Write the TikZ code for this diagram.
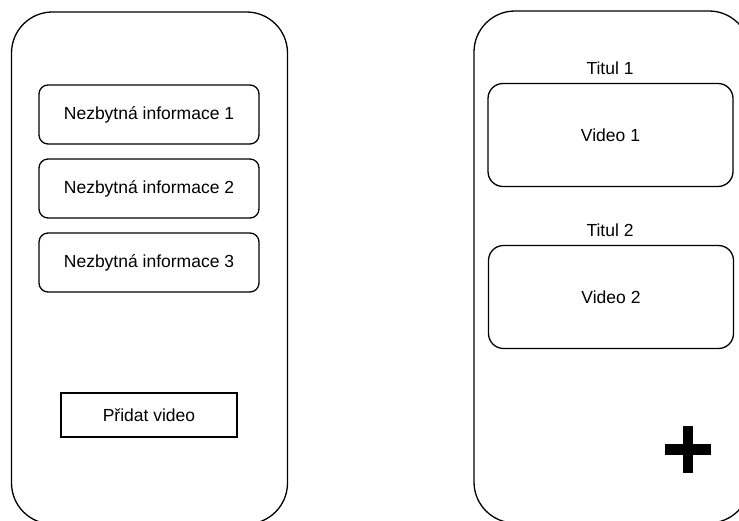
\documentclass[tikz,border=0pt]{standalone}
\usepackage{fontspec}
\setmainfont{Liberation Sans}
\begin{document}
\begin{tikzpicture}[x=1pt,y=-1pt,
  every node/.style={font=\fontsize{17.5}{20}\selectfont, inner sep=0pt, outer sep=0pt},
  phone/.style={draw, line width=1.3pt, rounded corners=41pt, minimum width=276pt, minimum height=512pt},
  infobox/.style={draw, line width=1.3pt, rounded corners=9pt, minimum width=220pt, minimum height=59pt},
  videobox/.style={draw, line width=1.3pt, rounded corners=15pt, minimum width=245pt, minimum height=103pt},
  plainbox/.style={draw, line width=1.3pt, minimum width=176pt, minimum height=44pt},
  caption/.style={}
]
\useasboundingbox (0,0) rectangle (739,521);
\clip (0,0) rectangle (739,521);

% left screen: information list
\node[phone] (left) at (149.5,268) {};
\node[infobox] (info1) at (149,114.5) {Nezbytná informace 1};
\node[infobox] (info2) at (149,188.5) {Nezbytná informace 2};
\node[infobox] (info3) at (149,262.5) {Nezbytná informace 3};
\node[plainbox] (add) at (149,415) {Přidat video};

% right screen: video list
\node[phone] (right) at (612,267) {};
\node[caption] (title1) at (610,68) {Titul 1};
\node[videobox] (video1) at (610.5,135) {Video 1};
\node[caption] (title2) at (610,230) {Titul 2};
\node[videobox] (video2) at (611,297) {Video 2};

% add button
\coordinate (plus) at (688,449.5);
\fill ([xshift=-5pt,yshift=-23.5pt]plus) rectangle ([xshift=5pt,yshift=23.5pt]plus);
\fill ([xshift=-23pt,yshift=-5.5pt]plus) rectangle ([xshift=23pt,yshift=5.5pt]plus);
\end{tikzpicture}
\end{document}
